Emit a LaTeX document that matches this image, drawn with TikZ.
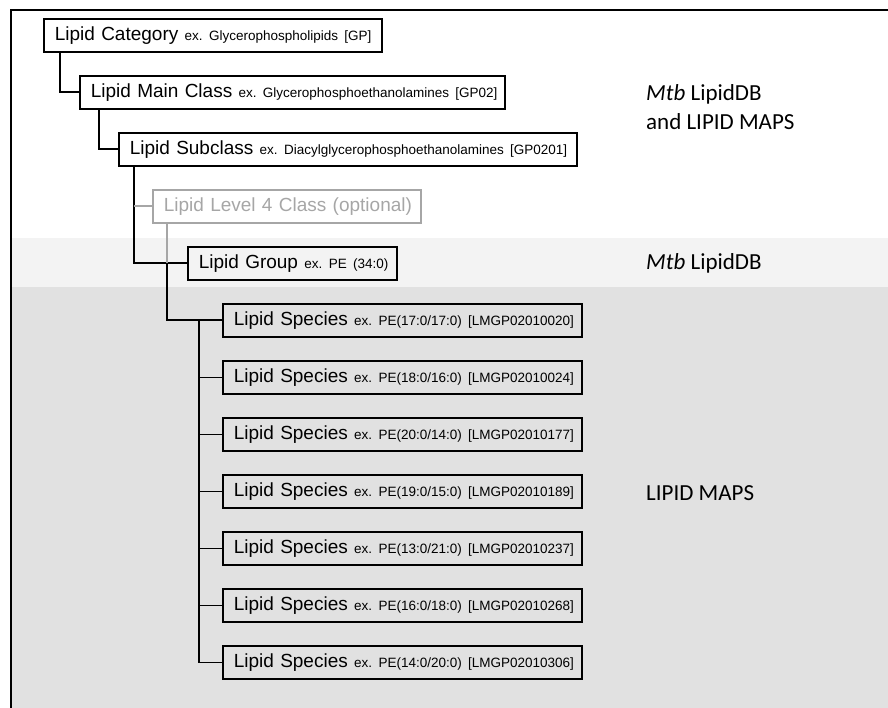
\documentclass[tikz,border=0pt]{standalone}
\usepackage{fontspec}
\setmainfont{Liberation Sans}
\newfontfamily\calib{Carlito}
\usepackage{xcolor}
\usepackage{tikz}
\usetikzlibrary{positioning, calc}
\definecolor{bandlight}{HTML}{F3F3F3}
\definecolor{banddark}{HTML}{E1E1E1}
\definecolor{optgray}{HTML}{A6A6A6}
\frenchspacing
\newcommand{\lvltext}[2]{\mbox{#1 {\fontsize{13.5}{15}\selectfont ex.\ #2}}}
\tikzset{
    lvlbox/.style={
        rectangle,
        draw=black,
        line width=1.6pt,
        minimum height=33pt,
        inner xsep=11pt,
        inner ysep=0pt,
        anchor=north west,
        align=left,
        font=\fontsize{19}{21}\selectfont
    },
    optbox/.style={
        lvlbox,
        draw=optgray,
        text=optgray
    },
    link/.style={
        draw=black,
        line width=1.6pt
    },
    optlink/.style={
        draw=optgray,
        line width=1.6pt
    },
    dbtag/.style={
        align=left,
        inner sep=0pt,
        font=\calib\fontsize{23}{29}\selectfont
    }
}

\begin{document}
\begin{tikzpicture}[x=1pt, y=-1pt]
\useasboundingbox (0,0) rectangle (888,708);

% Background bands and frame
\fill[bandlight] (12,238) rectangle (888,287);
\fill[banddark] (12,287) rectangle (888,708);
\draw[line width=2pt] (11,708) |- (888,10);

% Hierarchy levels
\node[lvlbox, text width=316pt] (cat) at (43,18) {\lvltext{Lipid Category}{Glycerophospholipids [GP]}};
\node[lvlbox, text width=403pt] (main) at (79,75) {\lvltext{Lipid Main Class}{Glycerophosphoethanolamines [GP02]}};
\node[lvlbox, text width=436pt] (sub) at (118,132) {\lvltext{Lipid Subclass}{Diacylglycerophosphoethanolamines [GP0201]}};
\node[optbox, text width=246pt] (lvl4) at (152,189) {\mbox{Lipid Level 4 Class (optional)}};
\node[lvlbox, text width=187pt] (grp) at (187,246) {\lvltext{Lipid Group}{PE (34:0)}};

% Species
\foreach \i/\chains/\lmid in {1/17:0\slash 17:0/LMGP02010020, 2/18:0\slash 16:0/LMGP02010024,
    3/20:0\slash 14:0/LMGP02010177, 4/19:0\slash 15:0/LMGP02010189, 5/13:0\slash 21:0/LMGP02010237,
    6/16:0\slash 18:0/LMGP02010268, 7/14:0\slash 20:0/LMGP02010306}
    \node[lvlbox, text width=337pt] (sp\i) at (222,246+57*\i) {\lvltext{Lipid Species}{PE(\chains) [\lmid]}};

% Connectors
\draw[link] ([xshift=17pt]cat.south west) |- (main.west);
\draw[link] ([xshift=20pt]main.south west) |- (sub.west);
\draw[link] ([xshift=16pt]sub.south west) |- (grp.west);
\coordinate (split) at ([xshift=15pt]lvl4.south west |- grp.west);
\draw[optlink] ([xshift=16pt]sub.south west |- lvl4.west) -- (lvl4.west);
\draw[optlink] ([xshift=15pt]lvl4.south west) -- (split);
\draw[link] (split) |- (sp1.west);
\coordinate (bus) at ([xshift=-23pt]sp1.west);
\foreach \i in {2,...,7}
    \draw[link] (bus) |- (sp\i.west);

% Database labels
\node[dbtag, anchor=north west] (both) at (646,84) {\textit{Mtb} LipidDB\\and LIPID MAPS};
\node[dbtag, anchor=base west] (mtb) at (646,270) {\textit{Mtb} LipidDB};
\node[dbtag, anchor=base west] (maps) at (646,500) {LIPID MAPS};

\end{tikzpicture}
\end{document}
